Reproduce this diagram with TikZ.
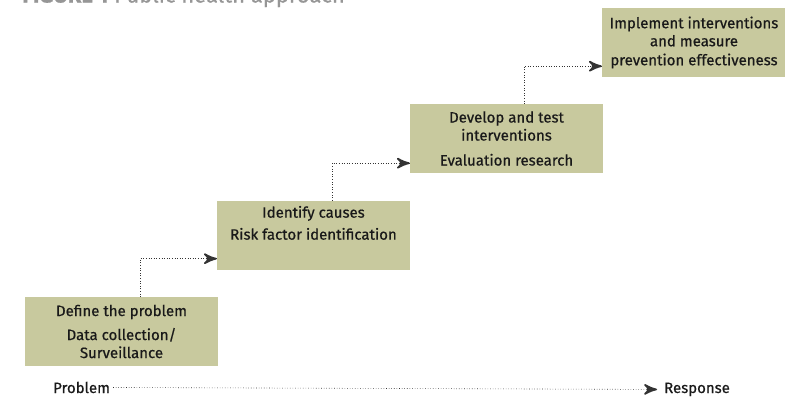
\documentclass[tikz,border=0pt]{standalone}
\usepackage{fontspec}
\setmainfont{Fira Sans}[FakeBold=0.6]
\usepackage{tikz}
\usetikzlibrary{arrows}
\usetikzlibrary{decorations.markings}
\usetikzlibrary{positioning}
\tikzset{->/.style = {decoration={markings,
                                  mark=at position 1 with {\arrow[scale=3]{stealth'}}},
                      postaction={decorate}}}
\tikzset{stepbox/.style = {fill=mgreen, align=center, inner sep=0pt,
                           minimum width=193pt, minimum height=69pt,
                           text=mtext, font=\fontsize{15}{18}\selectfont}}
\tikzset{flow/.style = {dotted, line width=0.6pt, black!80}}
\definecolor{mgreen}{RGB}{200, 201, 158}
\definecolor{mtext}{RGB}{25, 25, 25}
\definecolor{mgrey}{RGB}{150, 150, 150}

\begin{document}
\begin{tikzpicture}[x=1pt, y=-1pt]
    \useasboundingbox (0, 0) rectangle (785, 397);

    \node [anchor=base west, inner sep=0pt, text=mgrey, font=\fontsize{22}{26}\selectfont] (title) at (22, 2.5)
        {\textbf{FIGURE 1} Public health approach};

    \node [stepbox] (define) at (121.5, 331.5)
        {Define the problem\\[6pt] Data collection/\\Surveillance};
    \node [stepbox] (causes) at (313.5, 235)
        {Identify causes\\[4pt] Risk factor identification\\[1pt] \strut};
    \node [stepbox] (develop) at (506.5, 138.5)
        {Develop and test\\interventions\\[7pt] Evaluation research};
    \node [stepbox, minimum width=184pt] (implement) at (694, 42.5)
        {Implement interventions\\and measure\\[1pt] prevention effectiveness};

    \draw [flow, ->] ([xshift=115pt]define.north west) |- ([yshift=11pt]causes.south west);
    \draw [flow, ->] ([xshift=115pt]causes.north west) |- ([yshift=10pt]develop.south west);
    \draw [flow, ->] ([xshift=114pt]develop.north west) |- ([yshift=11pt]implement.south west);

    \node [anchor=base west, inner sep=0pt, text=mtext, font=\fontsize{15}{18}\selectfont] (problem) at (53, 393) {Problem};
    \node [anchor=base west, inner sep=0pt, text=mtext, font=\fontsize{15}{18}\selectfont] (response) at (664, 393) {Response};
    \draw [flow, ->] ([xshift=3pt]problem.east) -- ([xshift=-7pt]response.west);
  \end{tikzpicture}
\end{document}
